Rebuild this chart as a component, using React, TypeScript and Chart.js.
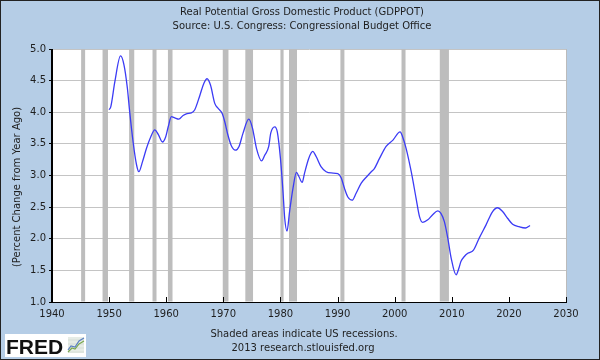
import React, { useEffect, useRef } from 'react';
import { Chart, registerables } from 'chart.js';

Chart.register(...registerables);

const TITLE_LINES = [
  'Real Potential Gross Domestic Product (GDPPOT)',
  'Source: U.S. Congress: Congressional Budget Office',
];
const Y_AXIS_LABEL = '(Percent Change from Year Ago)';
const FOOTER_LINES = ['Shaded areas indicate US recessions.', '2013 research.stlouisfed.org'];
const LOGO_TEXT = 'FRED';

const years = [
  1950.0, 1950.3, 1951.0, 1952.0, 1952.6, 1953.2, 1953.6, 1954.2, 1954.8, 1955.2,
  1955.85, 1956.55, 1957.25, 1958.0, 1958.6, 1959.35, 1959.9, 1960.35, 1960.9, 1961.5,
  1962.2, 1962.95, 1963.65, 1964.4, 1965.0, 1965.9, 1966.6, 1967.15, 1967.75, 1968.5,
  1969.1, 1969.8, 1970.25, 1970.8, 1971.4, 1972.1, 1972.75, 1973.45, 1974.45, 1975.1,
  1975.8, 1976.7, 1977.25, 1977.95, 1978.3, 1979.0, 1979.45, 1980.0, 1980.45, 1980.75,
  1981.15, 1981.6, 1982.2, 1982.8, 1983.25, 1983.8, 1984.2, 1984.95, 1985.65, 1986.25,
  1987.1, 1988.0, 1988.9, 1990.05, 1990.65, 1991.2, 1991.8, 1992.55, 1993.25, 1994.15,
  1995.1, 1995.9, 1996.45, 1997.35, 1998.5, 1999.7, 2000.95, 2001.4, 2002.0, 2002.9,
  2003.75, 2004.35, 2004.9, 2005.8, 2006.65, 2007.55, 2008.1, 2008.7, 2009.3, 2009.9,
  2010.75, 2011.3, 2011.6, 2012.2, 2012.8, 2013.8, 2014.8, 2016.0, 2017.15, 2018.0,
  2018.9, 2019.8, 2020.65, 2021.8, 2022.9, 2023.7,
];

const pctChange = [
  4.04, 4.09, 4.48, 4.89, 4.75, 4.38, 4.01, 3.53, 3.17, 3.06,
  3.22, 3.43, 3.60, 3.72, 3.65, 3.53, 3.61, 3.77, 3.93, 3.91,
  3.89, 3.95, 3.98, 3.99, 4.04, 4.27, 4.46, 4.53, 4.43, 4.14,
  4.06, 3.98, 3.85, 3.64, 3.47, 3.40, 3.46, 3.67, 3.89, 3.75,
  3.43, 3.23, 3.32, 3.46, 3.67, 3.77, 3.69, 3.27, 2.74, 2.32,
  2.12, 2.43, 2.80, 3.05, 2.98, 2.89, 3.03, 3.27, 3.38, 3.30,
  3.14, 3.06, 3.04, 3.03, 2.96, 2.80, 2.66, 2.61, 2.72, 2.88,
  2.98, 3.06, 3.11, 3.27, 3.46, 3.56, 3.69, 3.61, 3.43, 3.06,
  2.64, 2.35, 2.26, 2.30, 2.38, 2.44, 2.40, 2.27, 2.01, 1.69,
  1.43, 1.55, 1.64, 1.72, 1.77, 1.82, 2.01, 2.22, 2.43, 2.49,
  2.43, 2.32, 2.23, 2.19, 2.17, 2.21,
];

const recessionStarts = [1945.1, 1948.85, 1953.5, 1957.6, 1960.3, 1969.9, 1973.85, 1980.0, 1981.5, 1990.5, 2001.2, 2007.9];
const recessionEnds = [1945.8, 1949.8, 1954.4, 1958.3, 1961.1, 1970.9, 1975.2, 1980.55, 1982.9, 1991.2, 2001.9, 2009.5];

const X_MIN = 1940;
const X_MAX = 2030;
const X_STEP = 10;
const Y_MIN = 1.0;
const Y_MAX = 5.0;
const Y_STEP = 0.5;

const BG = '#b5cde6';
const TEXT = '#1e1e1e';
const FONT = "'DejaVu Sans', sans-serif";

const fredPlugin = {
  id: 'fredDecor',
  beforeDraw(chart: any) {
    const { ctx, chartArea: a, width, height } = chart;
    ctx.save();
    ctx.fillStyle = BG;
    ctx.fillRect(0, 0, width, height);
    ctx.fillStyle = '#ffffff';
    ctx.fillRect(a.left, a.top, a.right - a.left, a.bottom - a.top);
    ctx.restore();
  },
  beforeDatasetsDraw(chart: any) {
    const { ctx, chartArea: a, scales } = chart;
    const xs = scales.x;
    ctx.save();
    ctx.fillStyle = '#bdbdbd';
    recessionStarts.forEach((s, i) => {
      const x0 = xs.getPixelForValue(s);
      const x1 = xs.getPixelForValue(recessionEnds[i]);
      ctx.fillRect(x0, a.top, Math.max(1, x1 - x0), a.bottom - a.top - 0.5);
    });
    ctx.restore();
  },
  afterDraw(chart: any) {
    const { ctx, chartArea: a, scales, width, height } = chart;
    ctx.save();
    // right plot border
    ctx.strokeStyle = '#bbbbbb';
    ctx.lineWidth = 1;
    ctx.beginPath();
    ctx.moveTo(Math.round(a.right) + 0.5, a.top);
    ctx.lineTo(Math.round(a.right) + 0.5, a.bottom);
    ctx.stroke();
    // axes lines
    ctx.strokeStyle = '#000';
    ctx.beginPath();
    ctx.moveTo(Math.round(a.left) - 0.5, a.top);
    ctx.lineTo(Math.round(a.left) - 0.5, Math.round(a.bottom) + 0.5);
    ctx.lineTo(a.right + 1, Math.round(a.bottom) + 0.5);
    ctx.stroke();
    // inner x ticks
    const xs = scales.x;
    ctx.beginPath();
    xs.ticks.forEach((t: any) => {
      const px = Math.round(xs.getPixelForValue(t.value)) + 0.5;
      ctx.moveTo(px, a.bottom);
      ctx.lineTo(px, a.bottom - 5);
    });
    ctx.stroke();

    // titles
    ctx.fillStyle = TEXT;
    ctx.font = `10px ${FONT}`;
    ctx.textAlign = 'center';
    ctx.textBaseline = 'middle';
    ctx.fillText(TITLE_LINES[0], 302, 12);
    ctx.fillText(TITLE_LINES[1], 302, 26);
    ctx.fillText(FOOTER_LINES[0], 304, 334);
    ctx.fillText(FOOTER_LINES[1], 303, 348);

    // y axis label
    ctx.save();
    ctx.translate(17, 187);
    ctx.rotate(-Math.PI / 2);
    ctx.fillText(Y_AXIS_LABEL, 0, 0);
    ctx.restore();

    // logo
    ctx.fillStyle = '#ffffff';
    ctx.fillRect(5, 334, 81, 23);
    ctx.fillStyle = '#111';
    ctx.font = "bold 21px 'Liberation Sans', sans-serif";
    ctx.textAlign = 'left';
    ctx.textBaseline = 'alphabetic';
    ctx.fillText(LOGO_TEXT, 6, 354);
    // logo icon
    ctx.fillStyle = '#e6ece6';
    ctx.fillRect(68, 337, 16, 16);
    ctx.strokeStyle = '#cfd6cf';
    ctx.lineWidth = 0.6;
    ctx.beginPath();
    for (let k = 0; k < 4; k++) {
      ctx.moveTo(68, 340 + k * 4);
      ctx.lineTo(84, 340 + k * 4);
    }
    ctx.stroke();
    ctx.lineWidth = 1.2;
    ctx.strokeStyle = '#7aa84f';
    ctx.beginPath();
    ctx.moveTo(68, 352); ctx.lineTo(72, 348); ctx.lineTo(75, 349); ctx.lineTo(79, 344); ctx.lineTo(84, 341);
    ctx.stroke();
    ctx.strokeStyle = '#5a7fc0';
    ctx.beginPath();
    ctx.moveTo(68, 350); ctx.lineTo(71, 346); ctx.lineTo(75, 347); ctx.lineTo(79, 341); ctx.lineTo(84, 338);
    ctx.stroke();

    // outer frame
    ctx.strokeStyle = '#222';
    ctx.lineWidth = 2;
    ctx.strokeRect(0, 0, width, height);
    ctx.restore();
  },
};

export default function App() {
  const ref = useRef<HTMLCanvasElement>(null);
  useEffect(() => {
    document.body.style.margin = '0';
    Chart.defaults.font.family = FONT;
    Chart.defaults.font.size = 10;
    Chart.defaults.color = TEXT;
    const chart = new Chart(ref.current as HTMLCanvasElement, {
      type: 'line',
      data: {
        datasets: [
          {
            label: 'GDPPOT',
            data: years.map((yr, i) => ({ x: yr, y: pctChange[i] })),
            borderColor: '#3b3bf5',
            borderWidth: 1.3,
            pointRadius: 0,
            fill: false,
            cubicInterpolationMode: 'monotone',
          },
        ],
      },
      options: {
        animation: false,
        responsive: false,
        layout: { padding: { left: 0, top: 49, right: 34, bottom: 38 } },
        plugins: {
          legend: { display: false },
          tooltip: { enabled: false },
          title: { display: false },
        },
        scales: {
          x: {
            type: 'linear',
            min: X_MIN,
            max: X_MAX,
            afterFit: (s: any) => {
              s.height = 20;
            },
            grid: { display: false, drawTicks: false },
            border: { display: true, color: '#000', width: 1 },
            ticks: {
              stepSize: X_STEP,
              padding: 6,
              autoSkip: false,
              maxRotation: 0,
              color: TEXT,
              font: { family: FONT, size: 10 },
              callback: (v: any) => String(v),
            },
          },
          y: {
            type: 'linear',
            min: Y_MIN,
            max: Y_MAX,
            afterFit: (s: any) => {
              s.width = 52;
            },
            grid: { color: '#c4c4c4', lineWidth: 1, tickLength: 3, tickColor: '#000', drawTicks: true },
            border: { display: true, color: '#000', width: 1 },
            ticks: {
              stepSize: Y_STEP,
              padding: 3,
              color: TEXT,
              font: { family: FONT, size: 10 },
              callback: (v: any) => Number(v).toFixed(1),
            },
          },
        },
      },
      plugins: [fredPlugin],
    } as any);
    return () => chart.destroy();
  }, []);
  return (
    <div style={{ width: 600, height: 360 }}>
      <canvas ref={ref} width={600} height={360} style={{ display: 'block', width: 600, height: 360 }} />
    </div>
  );
}
